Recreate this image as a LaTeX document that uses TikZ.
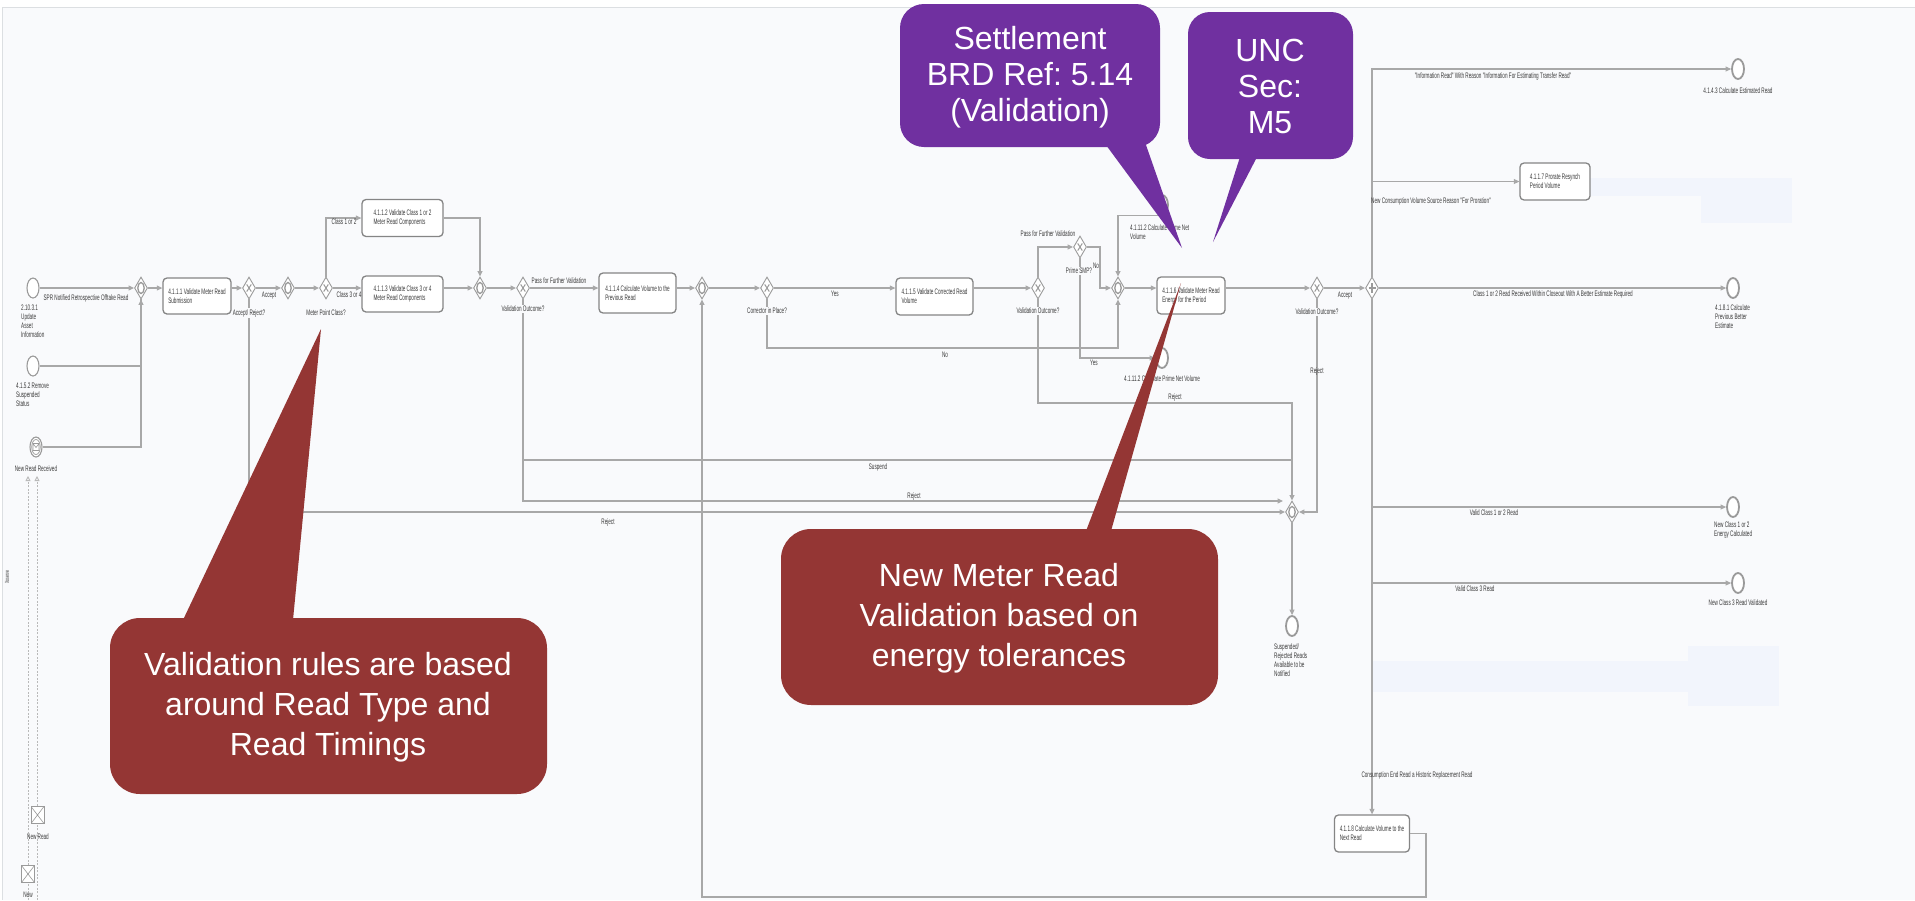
\documentclass[tikz,border=0pt]{standalone}
\usepackage{fontspec}
\setmainfont{Liberation Sans}
\newfontfamily\condf[FakeStretch=0.58]{Liberation Sans}
\usetikzlibrary{shapes.geometric,arrows.meta}
\definecolor{bg}{HTML}{F9FAFC}
\definecolor{ln}{HTML}{A8A8A8}
\definecolor{gwc}{HTML}{9A9A9A}
\definecolor{bx}{HTML}{858585}
\definecolor{tx}{HTML}{3A3A3A}
\definecolor{purp}{HTML}{7030A0}
\definecolor{dred}{HTML}{943634}
\definecolor{faint}{HTML}{F2F5FC}
\definecolor{topl}{HTML}{DCDFE2}
\newcommand{\smallf}{\condf\fontsize{8pt}{9pt}\selectfont}
\newcommand{\calloutfont}{\fontsize{32pt}{36pt}\selectfont}
\newcommand{\calloutfontr}{\fontsize{32pt}{40pt}\selectfont}
\newcommand{\gwXmark}[1]{\draw[gwc,line width=1pt] ([shift={(-2.3,-3.6)}]#1.center) -- ([shift={(2.3,3.6)}]#1.center) ([shift={(-2.3,3.6)}]#1.center) -- ([shift={(2.3,-3.6)}]#1.center);}
\newcommand{\gwOmark}[1]{\draw[gwc,line width=1.3pt] (#1.center) ellipse (3.2 and 5.5);}
\newcommand{\gwPmark}[1]{\draw[gwc,line width=1.3pt] ([shift={(0,-5)}]#1.center) -- ([shift={(0,5)}]#1.center) ([shift={(-3.5,0)}]#1.center) -- ([shift={(3.5,0)}]#1.center);}
\frenchspacing
\begin{document}
\begin{tikzpicture}[x=1pt,y=-1pt,
  flow/.style={draw=ln,line width=1.1pt,-{Triangle[length=5.5pt,width=5pt]}},
  plainln/.style={draw=ln,line width=1.1pt},
  msgflow/.style={draw=ln!80,line width=0.9pt,dash pattern=on 2pt off 1.5pt,-{Triangle[open,length=5pt,width=5pt]}},
  task/.style={rectangle,rounded corners=4pt,draw=bx,line width=1.3pt,fill=white,align=left,font=\smallf,text=tx,inner sep=0pt},
  gw/.style={diamond,draw=gwc,line width=0.9pt,fill=white,minimum width=13pt,minimum height=22pt,inner sep=0pt},
  sev/.style={ellipse,draw=gwc,line width=1.1pt,fill=white,minimum width=12pt,minimum height=20pt,inner sep=0pt},
  eev/.style={ellipse,draw=gwc,line width=1.8pt,fill=white,minimum width=12pt,minimum height=20pt,inner sep=0pt},
  msgbox/.style={rectangle,draw=gwc,line width=0.8pt,fill=white,minimum width=13pt,minimum height=17pt,inner sep=0pt,
    path picture={\draw[gwc,line width=0.6pt] (path picture bounding box.north west) -- (path picture bounding box.south east) (path picture bounding box.north east) -- (path picture bounding box.south west);}},
  lbl/.style={font=\smallf,text=tx,inner sep=0.5pt,align=center},
  lbll/.style={font=\smallf,text=tx,inner sep=0pt,align=left,anchor=north west},
  glbl/.style={lbl,fill=bg,inner sep=1pt},
  calltxt/.style={text=white,align=center,font=\calloutfont},
  calltxtr/.style={text=white,align=center,font=\calloutfontr},
]
\useasboundingbox (0,0) rectangle (1915,900);
\fill[white] (0,0) rectangle (1915,900);
\fill[bg] (2,8) rectangle (1915,900);
\draw[topl,line width=1.5pt] (2,7.5) -- (1915,7.5);
\draw[topl,line width=0.8pt] (2,8) -- (2,900);
% faint boxes
\fill[faint] (1590,178) rectangle (1792,196);
\fill[faint] (1701,196) rectangle (1792,223);
\fill[faint] (1372,661) rectangle (1779,692);
\fill[faint] (1688,646) rectangle (1779,706);
% lane label
\node[font=\condf\fontsize{6pt}{7pt}\selectfont,text=tx,rotate=90] (lane) at (7,577) {Xoserve};

% events
\node[sev] (s1) at (33,288) {};
\node[lbll] (s1l) at (21,305) {2.10.3.1\\Update\\Asset\\Information};
\node[sev] (s2) at (33,366) {};
\node[lbll] (s2l) at (16,383) {4.1.5.2 Remove\\Suspended\\Status};
\node[sev] (s3) at (36,447) {};
\draw[gwc,line width=0.7pt] (s3.center) ellipse (4.3 and 7.5);
\draw[gwc,line width=0.6pt] (33,443.5) rectangle (39,450.5) (33,443.5) -- (36,447.5) -- (39,443.5);
\node[lbl] (s3l) at (36,469) {New Read Received};

% message flows
\coordinate (m1b) at (28,900);
\coordinate (m1t) at (28,476);
\coordinate (m2b) at (37,900);
\coordinate (m2t) at (37,476);
\draw[msgflow] (m1b) -- (m1t);
\draw[msgflow] (m2b) -- (m2t);
\node[msgbox] (mb1) at (37.5,815) {};
\node[lbl] (mb1l) at (38,837) {New Read};
\node[msgbox] (mb2) at (28,874) {};
\node[lbl] (mb2l) at (28,895) {New};

% gateways
\node[gw] (g1) at (141,288) {}; \gwOmark{g1}
\node[gw] (x1) at (249,288) {}; \gwXmark{x1}
\node[gw] (g2) at (288,288) {}; \gwOmark{g2}
\node[gw] (x2) at (326,288) {}; \gwXmark{x2}
\node[gw] (g3) at (480,288) {}; \gwOmark{g3}
\node[gw] (x3) at (523,288) {}; \gwXmark{x3}
\node[gw] (g4) at (702,288) {}; \gwOmark{g4}
\node[gw] (x4) at (767,288) {}; \gwXmark{x4}
\node[gw] (x5) at (1038,288) {}; \gwXmark{x5}
\node[gw] (x6) at (1080,247) {}; \gwXmark{x6}
\node[gw] (g5) at (1118,288) {}; \gwOmark{g5}
\node[gw] (x7) at (1317,288) {}; \gwXmark{x7}
\node[gw] (p1) at (1372,288) {}; \gwPmark{p1}
\node[gw] (g6) at (1292,512) {}; \gwOmark{g6}

% tasks
\node[task,minimum width=68pt,minimum height=36pt] (t1) at (197,296) {4.1.1.1 Validate Meter Read\\Submission};
\node[task,minimum width=81pt,minimum height=37pt] (t2) at (402.5,218) {4.1.1.2 Validate Class 1 or 2\\Meter Read Components};
\node[task,minimum width=81pt,minimum height=36pt] (t3) at (402.5,294) {4.1.1.3 Validate Class 3 or 4\\Meter Read Components};
\node[task,minimum width=77pt,minimum height=40pt] (t4) at (637.5,293) {4.1.1.4 Calculate Volume to the\\Previous Read};
\node[task,minimum width=77pt,minimum height=37pt] (t5) at (934.5,296.5) {4.1.1.5 Validate Corrected Read\\Volume\phantom{Validate Corrected Read}};
\node[task,minimum width=68pt,minimum height=37pt] (t6) at (1191,295.5) {4.1.1.6 Validate Meter Read\\Energy for the Period\phantom{ea}};
\node[task,minimum width=70pt,minimum height=37pt] (t7) at (1555,181.5) {4.1.1.7 Prorate Resynch\\Period Volume\phantom{Resync}};
\node[task,minimum width=75pt,minimum height=37pt] (t8) at (1372,833.5) {4.1.1.8 Calculate Volume to the\\Next Read\phantom{Calculate Volume to}};

% end / intermediate events
\node[eev] (e7) at (1162,205) {};
\node[lbll] (e7l) at (1130,224) {4.1.11.2 Calculate Prime Net\\Volume};
\node[eev] (e6) at (1162,358) {};
\node[lbl] (e6l) at (1162,379) {4.1.11.2 Calculate Prime Net Volume};
\node[eev] (e1) at (1738,69) {};
\node[lbl] (e1l) at (1738,91) {4.1.4.3 Calculate Estimated Read};
\node[eev] (e2) at (1733,288) {};
\node[lbll] (e2l) at (1715,304) {4.1.8.1 Calculate\\Previous Better\\Estimate};
\node[eev] (e3) at (1733,507) {};
\node[lbll] (e3l) at (1714,521) {New Class 1 or 2\\Energy Calculated};
\node[eev] (e4) at (1738,583) {};
\node[lbl] (e4l) at (1738,603) {New Class 3 Read Validated};
\node[eev] (e5) at (1292,626) {};
\node[lbll] (e5l) at (1274,643) {Suspended/\\Rejected Reads\\Available to be\\Notified};

% sequence flows
\draw[flow] (s1.east) -- (g1.west);
\draw[flow] (s2.east) -| (g1.south);
\draw[plainln] (s3.east) -| (g1.south);
\draw[flow] (g1.east) -- (g1.east -| t1.west);
\draw[flow] (t1.east |- x1.west) -- (x1.west);
\draw[flow] (x1.east) -- (g2.west);
\draw[flow] (g2.east) -- (x2.west);
\draw[flow] (x2.north) |- (t2.west);
\draw[flow] (x2.east) -- (x2.east -| t3.west);
\draw[flow] (t2.east) -| (g3.north);
\draw[flow] (t3.east |- g3.west) -- (g3.west);
\draw[flow] (g3.east) -- (x3.west);
\draw[flow] (x3.east) -- (x3.east -| t4.west);
\draw[flow] (t4.east |- g4.west) -- (g4.west);
\draw[flow] (g4.east) -- (x4.west);
\draw[flow] (x4.east) -- (x4.east -| t5.west);
\draw[flow] (t5.east |- x5.west) -- (x5.west);
\coordinate (bNo) at (767,348);
\draw[flow] (x4.south) -- (bNo) -| (g5.south);
\draw[flow] (x5.north) |- (x6.west);
\coordinate (bSMP) at (1100,247);
\draw[flow] (x6.east) -- (bSMP) |- (g5.west);
\draw[flow] (x6.south) |- (e6.west);
\draw[flow] (e7.south) -| (g5.north);
\draw[flow] (g5.east) -- (g5.east -| t6.west);
\draw[flow] (t6.east |- x7.west) -- (x7.west);
\draw[flow] (x7.east) -- (p1.west);
\draw[flow] (p1.north) |- (e1.west);
\draw[flow] (p1.north) |- (t7.west);
\draw[flow] (p1.east) -- (e2.west);
\draw[flow] (p1.south) |- (e3.west);
\draw[flow] (p1.south) |- (e4.west);
\draw[flow] (p1.south) -- (p1.south |- t8.north);
\coordinate (bBot) at (1426,897);
\draw[flow] (t8.east) -| (bBot) -| (g4.south);
\draw[flow] (x1.south) |- (g6.west);
\coordinate (bSus) at (1292,460);
\draw[flow] (x3.south) |- (bSus) -- (g6.north);
\coordinate (bRej) at (1283,501);
\draw[flow] (x3.south) |- (bRej);
\coordinate (bRej2) at (1292,403);
\draw[plainln] (x5.south) |- (bRej2) -- (bSus);
\draw[flow] (x7.south) |- (g6.east);
\draw[flow] (g6.south) -- (e5.north);

% flow labels
\node[lbl] (f1) at (86,298) {SPR Notified Retrospective Offtake Read};
\node[lbl] (f2) at (269,296) {Accept};
\node[lbl] (f3) at (344,222) {Class 1 or 2};
\node[lbl] (f4) at (349,295) {Class 3 or 4};
\node[lbl] (f5) at (559,281) {Pass for Further Validation};
\node[lbl] (f6) at (835,294) {Yes};
\node[lbl] (f7) at (945,355) {No};
\node[lbl] (f8) at (1048,234) {Pass for Further Validation};
\node[lbl] (f9) at (1096,266) {No};
\node[lbl] (f10) at (1094,363) {Yes};
\node[lbl] (f11) at (1345,296) {Accept};
\node[lbl] (f12) at (1317,371) {Reject};
\node[lbl] (f13) at (1175,397) {Reject};
\node[lbl] (f14) at (878,467) {Suspend};
\node[lbl] (f15) at (914,496) {Reject};
\node[lbl] (f16) at (608,522) {Reject};
\node[lbl] (f17) at (1493,76) {"Information Read" With Reason "Information For Estimating Transfer Read"};
\node[lbl] (f18) at (1431,201) {New Consumption Volume Source Reason "For Proration"};
\node[lbl] (f19) at (1553,294) {Class 1 or 2 Read Received Within Closeout With A Better Estimate Required};
\node[lbl] (f20) at (1494,513) {Valid Class 1 or 2 Read};
\node[lbl] (f21) at (1475,589) {Valid Class 3 Read};
\node[lbl] (f22) at (1417,775) {Consumption End Read a Historic Replacement Read};

% gateway labels
\node[glbl] (x1l) at (249,313) {Accept/ Reject?};
\node[glbl] (x2l) at (326,313) {Meter Point Class?};
\node[glbl] (x3l) at (523,309) {Validation Outcome?};
\node[glbl] (x4l) at (767,311) {Corrector in Place?};
\node[glbl] (x5l) at (1038,311) {Validation Outcome?};
\node[glbl] (x6l) at (1079,271) {Prime SMP?};
\node[glbl] (x7l) at (1317,312) {Validation Outcome?};

% callouts
\fill[purp,rounded corners=24pt] (900,4) rectangle (1160,147);
\fill[purp] (1106,145) -- (1182,248) -- (1146,145) -- cycle;
\node[calltxt] (cA) at (1030,77) {Settlement\\BRD Ref: 5.14\\(Validation)};
\fill[purp,rounded corners=22pt] (1188,12) rectangle (1353,159);
\fill[purp] (1240,157) -- (1213,242) -- (1257,157) -- cycle;
\node[calltxt] (cB) at (1270,86) {UNC\\Sec:\\M5};
\fill[dred,rounded corners=30pt] (781,529) rectangle (1218,705);
\fill[dred] (1086,531) -- (1181,283) -- (1111,531) -- cycle;
\node[calltxtr] (cC) at (999,618) {New Meter Read\\Validation based on\\energy tolerances};
\fill[dred,rounded corners=30pt] (110,618) rectangle (547,794);
\fill[dred] (183,620) -- (321,329) -- (293,620) -- cycle;
\node[calltxtr] (cD) at (328,707) {Validation rules are based\\around Read Type and\\Read Timings};
\end{tikzpicture}
\end{document}
